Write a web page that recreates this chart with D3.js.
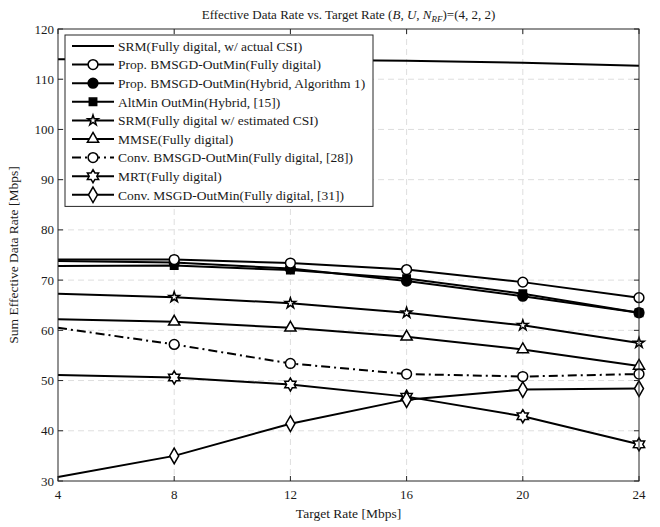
<!DOCTYPE html>
<html>
<head>
<meta charset="utf-8">
<script src="https://cdn.jsdelivr.net/npm/d3@7"></script>
<style>
  body { margin: 0; background: #fff; }
  text { font-family: "Liberation Serif", "DejaVu Serif", serif; fill: #1a1a1a; }
</style>
</head>
<body>
<script>
var targetRates = [4, 8, 12, 16, 20, 24];
var xTicks = [4, 8, 12, 16, 20, 24];
var yTicks = [30, 40, 50, 60, 70, 80, 90, 100, 110, 120];

var srmActual   = [114.0, 114.0, 113.9, 113.7, 113.3, 112.7];
var propFull    = [74.1, 74.1, 73.4, 72.1, 69.6, 66.5];
var propHybrid  = [73.8, 73.5, 72.3, 69.8, 66.8, 63.5];
var altMin      = [72.8, 72.9, 72.0, 70.3, 67.3, 63.5];
var srmEst      = [67.3, 66.6, 65.4, 63.5, 61.0, 57.5];
var mmse        = [62.2, 61.7, 60.5, 58.7, 56.2, 52.9];
var convBmsgd   = [60.5, 57.2, 53.4, 51.3, 50.8, 51.3];
var mrt         = [51.1, 50.6, 49.2, 46.8, 42.9, 37.3];
var convMsgd    = [30.8, 35.0, 41.4, 46.2, 48.2, 48.4];

var series = [
  { name: "SRM(Fully digital, w/ actual CSI)", values: srmActual, marker: null },
  { name: "Prop. BMSGD-OutMin(Fully digital)", values: propFull, marker: "circle" },
  { name: "Prop. BMSGD-OutMin(Hybrid, Algorithm 1)", values: propHybrid, marker: "circle", filled: true },
  { name: "AltMin OutMin(Hybrid, [15])", values: altMin, marker: "square", filled: true },
  { name: "SRM(Fully digital w/ estimated CSI)", values: srmEst, marker: "star" },
  { name: "MMSE(Fully digital)", values: mmse, marker: "triangle" },
  { name: "Conv. BMSGD-OutMin(Fully digital, [28])", values: convBmsgd, marker: "circle", dash: "9,4,2,4" },
  { name: "MRT(Fully digital)", values: mrt, marker: "hexagram" },
  { name: "Conv. MSGD-OutMin(Fully digital, [31])", values: convMsgd, marker: "diamond" }
];
var markerOrder = [3, 2, 1, 4, 5, 6, 7, 8];

var width = 660, height = 527;
var margin = { top: 29, right: 21, bottom: 46, left: 58 };
var w = width - margin.left - margin.right,
    h = height - margin.top - margin.bottom;

var svg = d3.select("body").append("svg")
    .attr("width", width)
    .attr("height", height);

var g = svg.append("g")
    .attr("transform", "translate(" + margin.left + "," + margin.top + ")");

var x = d3.scaleLinear().domain([4, 24]).range([0, w]);
var y = d3.scaleLinear().domain([30, 120]).range([h, 0]);

// grid
g.selectAll(".xgrid").data(xTicks.slice(1, -1)).enter().append("line")
    .attr("x1", function(d) { return x(d); }).attr("x2", function(d) { return x(d); })
    .attr("y1", 0).attr("y2", h)
    .attr("stroke", "#dedede").attr("stroke-dasharray", "6,4");
g.selectAll(".ygrid").data(yTicks.slice(1, -1)).enter().append("line")
    .attr("y1", function(d) { return y(d); }).attr("y2", function(d) { return y(d); })
    .attr("x1", 0).attr("x2", w)
    .attr("stroke", "#dedede").attr("stroke-dasharray", "6,4");

// markers
function markerPath(type) {
  if (type === "hexagram") {
    var pts = [];
    for (var i = 0; i < 12; i++) {
      var r = i % 2 === 0 ? 6.5 : 3.8;
      var a = Math.PI / 6 * i;
      pts.push([r * Math.sin(a), -r * Math.cos(a)]);
    }
    return "M" + pts.join("L") + "Z";
  }
  var sym = {
    circle: [d3.symbolCircle, 75],
    square: [d3.symbolSquare, 55],
    star: [d3.symbolStar, 34],
    triangle: [d3.symbolTriangle, 55],
    diamond: [d3.symbolDiamond, 70]
  }[type];
  return d3.symbol().type(sym[0]).size(sym[1])();
}

svg.append("clipPath").attr("id", "plotclip")
  .append("rect").attr("x", -1).attr("y", -1).attr("width", w + 2).attr("height", h + 2);

var line = d3.line()
    .x(function(d, i) { return x(targetRates[i]); })
    .y(function(d) { return y(d); });

var plot = g.append("g").attr("clip-path", "url(#plotclip)");

series.forEach(function(s) {
  plot.append("path")
      .attr("d", line(s.values))
      .attr("fill", "none")
      .attr("stroke", "#000")
      .attr("stroke-width", 2)
      .attr("stroke-dasharray", s.dash || null);
});

// markers drawn at every point except the first one
markerOrder.forEach(function(k) {
  var s = series[k];
  var pts = s.values.map(function(v, i) { return [targetRates[i], v]; }).slice(1);
  g.selectAll(null).data(pts).enter().append("path")
      .attr("d", markerPath(s.marker))
      .attr("transform", function(d) { return "translate(" + x(d[0]) + "," + y(d[1]) + ")"; })
      .attr("fill", s.filled ? "#000" : "#fff")
      .attr("stroke", "#000")
      .attr("stroke-width", 1.5);
});

// frame and ticks
var axisColor = "#262626";
g.append("rect").attr("width", w).attr("height", h)
    .attr("fill", "none").attr("stroke", axisColor).attr("stroke-width", 1);

var tk = 5;
xTicks.forEach(function(d) {
  g.append("line").attr("x1", x(d)).attr("x2", x(d)).attr("y1", h).attr("y2", h - tk).attr("stroke", axisColor);
  g.append("line").attr("x1", x(d)).attr("x2", x(d)).attr("y1", 0).attr("y2", tk).attr("stroke", axisColor);
  g.append("text").attr("x", x(d)).attr("y", h + 18).attr("text-anchor", "middle")
      .style("font-size", "13px").text(d);
});
yTicks.forEach(function(d) {
  g.append("line").attr("x1", 0).attr("x2", tk).attr("y1", y(d)).attr("y2", y(d)).attr("stroke", axisColor);
  g.append("line").attr("x1", w).attr("x2", w - tk).attr("y1", y(d)).attr("y2", y(d)).attr("stroke", axisColor);
  g.append("text").attr("x", -4).attr("y", y(d)).attr("dy", "0.35em").attr("text-anchor", "end")
      .style("font-size", "13px").text(d);
});

// labels
g.append("text").attr("x", w / 2).attr("y", h + 37).attr("text-anchor", "middle")
    .style("font-size", "13.5px").text("Target Rate [Mbps]");
g.append("text")
    .attr("transform", "translate(" + (-40) + "," + (h / 2) + ") rotate(-90)")
    .attr("text-anchor", "middle")
    .style("font-size", "13.5px").text("Sum Effective Data Rate [Mbps]");

var title = g.append("text").attr("x", w / 2).attr("y", -10).attr("text-anchor", "middle")
    .style("font-size", "13px");
title.append("tspan").text("Effective Data Rate vs.  Target Rate (");
title.append("tspan").style("font-style", "italic").text("B");
title.append("tspan").text(", ");
title.append("tspan").style("font-style", "italic").text("U");
title.append("tspan").text(", ");
title.append("tspan").style("font-style", "italic").text("N");
title.append("tspan").style("font-style", "italic").style("font-size", "9px").attr("dy", 3).text("RF");
title.append("tspan").attr("dy", -3).text(")=(4, 2, 2)");

// legend
var lg = g.append("g").attr("transform", "translate(7,6)");
var rowH = 18.6;
lg.append("rect").attr("width", 308).attr("height", series.length * rowH + 4)
    .attr("fill", "#fff").attr("stroke", axisColor).attr("stroke-width", 1);
series.forEach(function(s, i) {
  var yy = 11 + i * rowH;
  lg.append("line").attr("x1", 7).attr("x2", 49).attr("y1", yy).attr("y2", yy)
      .attr("stroke", "#000").attr("stroke-width", 2)
      .attr("stroke-dasharray", s.dash || null);
  if (s.marker) {
    lg.append("path").attr("d", markerPath(s.marker))
        .attr("transform", "translate(28," + yy + ")")
        .attr("fill", s.filled ? "#000" : "#fff")
        .attr("stroke", "#000").attr("stroke-width", 1.5);
  }
  lg.append("text").attr("x", 53).attr("y", yy).attr("dy", "0.35em")
      .style("font-size", "13.5px").text(s.name);
});
</script>
</body>
</html>
